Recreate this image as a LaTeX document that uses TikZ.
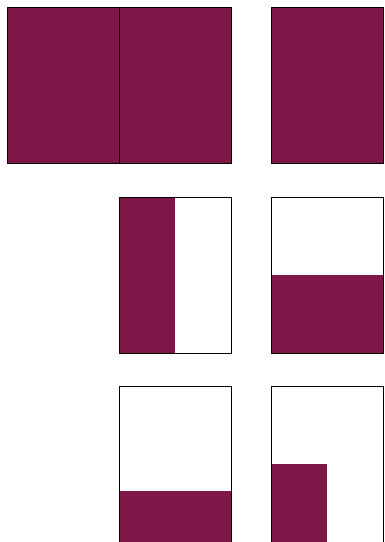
\documentclass[tikz,border=0pt]{standalone}
\usepackage{tikz}
\usepackage{xcolor}
\definecolor{wine}{RGB}{126,23,71}
\tikzset{
  panel/.style={draw=black, line width=1pt},
  part/.style={fill=wine, draw=none}
}
\begin{document}
\begin{tikzpicture}[x=1pt, y=-1pt]
\useasboundingbox (0,0) rectangle (385,542);
% top row: whole squares
\fill[part] (7,7) rectangle (231,164);
\fill[part] (271,7) rectangle (383,164);
% middle row: halves
\fill[part] (119,197) rectangle (175,353);
\fill[part] (271,275) rectangle (383,353);
% bottom row: third and quarter
\fill[part] (119,491) rectangle (231,542);
\fill[part] (271,464) rectangle (327,542);
% outlines
\foreach \x/\y in {7/7, 119/7, 271/7, 119/197, 271/197, 119/386, 271/386}
  \draw[panel] (\x,\y) rectangle ++(112,156);
\end{tikzpicture}
\end{document}
